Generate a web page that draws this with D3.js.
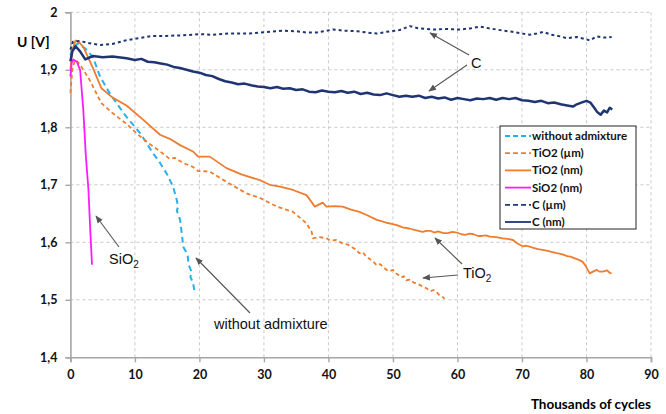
<!DOCTYPE html>
<html>
<head>
<meta charset="utf-8">
<script src="https://cdn.jsdelivr.net/npm/d3@7"></script>
<style>
  body { margin: 0; background: #fff; }
  svg { display: block; }
</style>
</head>
<body>
<svg id="chart" width="666" height="414"></svg>
<script>
// values: [thousands of cycles, U in V]
var withoutAdmixture = [[0,1.925],[0.5,1.940],[1.2,1.946],[2.3,1.937],[3.5,1.922],[4.6,1.888],[6.1,1.859],[7.4,1.838],[8.7,1.818],[10.8,1.790],[12.8,1.755],[13.9,1.738],[15.0,1.718],[15.9,1.697],[16.4,1.678],[16.7,1.662],[16.5,1.655],[17.0,1.639],[17.3,1.612],[17.5,1.592],[17.9,1.584],[18.2,1.575],[18.3,1.562],[18.8,1.548],[18.6,1.540],[19.0,1.530],[19.3,1.511]];
var tio2Micro = [[0,1.860],[0.3,1.900],[0.7,1.917],[1.2,1.913],[2.0,1.900],[3.0,1.882],[4.8,1.842],[6.5,1.825],[8.7,1.806],[10.5,1.787],[12.3,1.771],[13.9,1.758],[15.4,1.745],[16.2,1.747],[16.9,1.742],[17.5,1.738],[19.0,1.731],[19.8,1.724],[21.6,1.723],[24.2,1.705],[27.3,1.685],[29.4,1.677],[32.0,1.662],[34.5,1.653],[36.6,1.633],[37.4,1.618],[37.6,1.607],[38.6,1.609],[39.7,1.607],[40.3,1.603],[41.2,1.604],[42.2,1.598],[43.0,1.596],[43.5,1.592],[44.2,1.588],[44.8,1.581],[45.3,1.583],[45.8,1.576],[46.5,1.570],[47.0,1.566],[47.5,1.560],[48.0,1.562],[48.5,1.557],[49.0,1.552],[49.5,1.550],[50.0,1.552],[50.5,1.546],[51.3,1.539],[51.7,1.541],[52.1,1.534],[52.6,1.535],[53.2,1.530],[53.8,1.528],[54.6,1.523],[55.2,1.520],[55.8,1.515],[56.3,1.517],[56.8,1.513],[57.2,1.508],[57.7,1.505],[58.0,1.502]];
var tio2Nano = [[0,1.900],[0.3,1.935],[0.8,1.951],[1.3,1.948],[2.0,1.940],[3.5,1.903],[4.8,1.868],[6.5,1.852],[8.7,1.838],[11.3,1.813],[13.9,1.787],[15.4,1.780],[17.0,1.769],[19.0,1.758],[19.8,1.749],[21.6,1.749],[24.2,1.729],[26.5,1.718],[29.4,1.708],[30.9,1.700],[32.5,1.697],[34.5,1.691],[36.6,1.682],[37.9,1.662],[39.1,1.669],[39.7,1.662],[41.0,1.663],[42.2,1.662],[43.5,1.657],[44.8,1.653],[46.0,1.647],[47.5,1.639],[48.2,1.637],[49.0,1.634],[49.8,1.632],[50.6,1.630],[51.5,1.626],[52.5,1.624],[53.5,1.621],[54.6,1.618],[55.2,1.620],[55.8,1.620],[56.4,1.617],[57.0,1.619],[57.8,1.616],[58.5,1.616],[59.2,1.618],[59.9,1.617],[60.6,1.614],[61.2,1.613],[61.9,1.615],[62.5,1.614],[63.2,1.611],[63.8,1.611],[64.4,1.612],[65.0,1.610],[66.0,1.609],[67.0,1.607],[67.8,1.606],[68.6,1.604],[69.3,1.598],[70.1,1.593],[70.7,1.594],[71.3,1.592],[71.9,1.590],[72.5,1.588],[73.2,1.587],[74.0,1.585],[74.7,1.583],[75.4,1.581],[76.0,1.580],[76.5,1.578],[77.0,1.576],[77.5,1.575],[78.2,1.572],[78.9,1.569],[79.4,1.566],[79.8,1.560],[80.2,1.552],[80.5,1.546],[81.0,1.549],[81.6,1.552],[82.0,1.549],[82.5,1.549],[83.2,1.551],[83.6,1.547],[83.9,1.546]];
var sio2Nano = [[0,1.888],[0.2,1.912],[0.45,1.918],[1.0,1.914],[1.5,1.900],[2.0,1.830],[2.4,1.749],[2.8,1.691],[3.1,1.616],[3.35,1.561]];
var cMicro = [[0,1.935],[0.4,1.949],[1.5,1.950],[3.0,1.946],[4.6,1.943],[6.5,1.945],[8.5,1.951],[10.5,1.955],[12.8,1.959],[15.0,1.959],[17.5,1.960],[20.0,1.962],[22.0,1.961],[24.5,1.963],[27.8,1.963],[29.5,1.965],[31.0,1.966],[33.0,1.968],[35.0,1.967],[36.5,1.965],[38.2,1.965],[40.7,1.970],[42.5,1.968],[44.5,1.967],[46.5,1.964],[47.5,1.963],[49.0,1.966],[51.0,1.969],[52.6,1.976],[54.0,1.972],[56.5,1.970],[58.0,1.971],[60.3,1.970],[62.0,1.972],[63.5,1.975],[65.0,1.972],[66.6,1.969],[68.5,1.966],[70.0,1.963],[71.2,1.961],[72.3,1.963],[73.3,1.966],[74.5,1.961],[76.0,1.958],[76.9,1.955],[78.5,1.957],[80.0,1.953],[80.5,1.951],[81.6,1.958],[82.8,1.956],[83.9,1.957]];
var cNano = [[0,1.915],[0.3,1.932],[0.8,1.941],[1.5,1.932],[2.3,1.918],[3.5,1.924],[5.0,1.922],[6.5,1.923],[8.7,1.920],[10,1.917],[11,1.919],[12,1.914],[13,1.913],[14,1.911],[15,1.909],[16,1.905],[17,1.903],[18,1.900],[19,1.897],[20,1.895],[21,1.891],[22,1.889],[23,1.884],[24,1.880],[25,1.878],[26,1.875],[27,1.876],[28,1.873],[29,1.871],[30,1.870],[31,1.868],[32,1.870],[33,1.867],[34,1.868],[35,1.865],[36,1.866],[37,1.862],[38,1.861],[39,1.864],[40,1.862],[41,1.861],[42,1.863],[43,1.860],[44,1.862],[45,1.858],[46,1.860],[47,1.857],[48,1.856],[49,1.859],[50,1.856],[51,1.853],[52,1.855],[53,1.853],[54,1.855],[55,1.851],[56,1.853],[57,1.850],[58,1.852],[59,1.848],[60,1.851],[61,1.849],[62,1.847],[63,1.850],[64,1.849],[65,1.851],[66,1.848],[67,1.851],[68,1.849],[69,1.851],[70,1.847],[71,1.846],[72,1.844],[73,1.846],[74,1.842],[75,1.843],[76,1.840],[77,1.838],[77.9,1.836],[78.5,1.840],[79.2,1.843],[80,1.846],[80.6,1.843],[81.2,1.834],[81.7,1.826],[82.2,1.822],[82.7,1.829],[83.2,1.826],[83.6,1.834],[84,1.831]];

var xTicks = [0,10,20,30,40,50,60,70,80,90];
var yTicks = [1.4,1.5,1.6,1.7,1.8,1.9,2.0];

var series = [
  {label: "without admixture", data: withoutAdmixture, color: "#29b0ec", dash: "6,4", w: 2},
  {label: "TiO2 (µm)", data: tio2Micro, color: "#ed7d31", dash: "4,3", w: 1.8},
  {label: "TiO2 (nm)", data: tio2Nano, color: "#ed7d31", dash: null, w: 1.8},
  {label: "SiO2 (nm)", data: sio2Nano, color: "#ff1aff", dash: null, w: 1.8},
  {label: "C (µm)", data: cMicro, color: "#1f3473", dash: "3,3", w: 2},
  {label: "C (nm)", data: cNano, color: "#1f3473", dash: null, w: 2.5}
];

var svg = d3.select("#chart");

var x = d3.scaleLinear().domain([0, 90]).range([70.4, 651]);
var y = d3.scaleLinear().domain([1.4, 2]).range([357.3, 12.3]);

// grid
svg.append("g").selectAll("line")
  .data(xTicks.slice(1))
  .enter().append("line")
    .attr("x1", function(d) { return x(d); })
    .attr("x2", function(d) { return x(d); })
    .attr("y1", y(1.4)).attr("y2", y(2))
    .style("stroke", "#c8c8c8").style("stroke-dasharray", "3,3");
svg.append("g").selectAll("line")
  .data(yTicks.slice(1))
  .enter().append("line")
    .attr("x1", x(0)).attr("x2", x(90))
    .attr("y1", function(d) { return y(d); })
    .attr("y2", function(d) { return y(d); })
    .style("stroke", "#c8c8c8").style("stroke-dasharray", "3,3");

// axes
var xAxis = svg.append("g")
  .attr("transform", "translate(0," + y(1.4) + ")")
  .call(d3.axisBottom(x).tickValues(xTicks).tickSize(5).tickPadding(8).tickFormat(d3.format("d")));
var yAxis = svg.append("g")
  .attr("transform", "translate(" + x(0) + ",0)")
  .call(d3.axisLeft(y).tickValues(yTicks).tickSize(5).tickPadding(8)
    .tickFormat(function(d) { return d === 2 ? "2" : d3.format(".1f")(d).replace(".", ","); }));
[xAxis, yAxis].forEach(function(a) {
  a.select(".domain").style("stroke", "#a6a6a6").style("stroke-width", 1.6);
  a.selectAll(".tick line").style("stroke", "#a6a6a6").style("stroke-width", 1.4);
  a.selectAll(".tick text").style("font-family", "Lato, sans-serif").style("font-weight", "bold")
    .style("font-size", "12.5px").style("fill", "#111");
});

// lines
var line = d3.line()
  .x(function(d) { return x(d[0]); })
  .y(function(d) { return y(d[1]); });

svg.append("g").selectAll("path")
  .data(series)
  .enter().append("path")
    .attr("d", function(d) { return line(d.data); })
    .style("fill", "none")
    .style("stroke", function(d) { return d.color; })
    .style("stroke-width", function(d) { return d.w; })
    .style("stroke-dasharray", function(d) { return d.dash; })
    .style("stroke-linejoin", "round");

// axis titles
svg.append("text").attr("x", 17).attr("y", 47).text("U [V]")
  .style("font-family", "Lato, sans-serif").style("font-weight", "bold").style("font-size", "14px");
svg.append("text").attr("x", 651).attr("y", 409).attr("text-anchor", "end").text("Thousands of cycles")
  .style("font-family", "Lato, sans-serif").style("font-weight", "bold").style("font-size", "13.5px");

// annotations
var defs = svg.append("defs");
defs.append("marker").attr("id", "arr").attr("viewBox", "0 0 10 10")
  .attr("refX", 9).attr("refY", 5).attr("markerWidth", 7).attr("markerHeight", 7)
  .attr("orient", "auto")
  .append("path").attr("d", "M0,1 L10,5 L0,9 Z").style("fill", "#555");

var arrows = [[469,55,430,33],[467,65,429,91],[462,264,435,238],[458,275,423,278],[119,247,96,216],[250,313,196,258]];
svg.append("g").selectAll("line")
  .data(arrows)
  .enter().append("line")
    .attr("x1", function(d) { return d[0]; }).attr("y1", function(d) { return d[1]; })
    .attr("x2", function(d) { return d[2]; }).attr("y2", function(d) { return d[3]; })
    .style("stroke", "#555").style("stroke-width", 1.1)
    .attr("marker-end", "url(#arr)");

function note(tx, ty, main, sub) {
  var t = svg.append("text").attr("x", tx).attr("y", ty)
    .style("font-family", "'Liberation Sans', Arial, sans-serif").style("font-size", "14.5px").style("fill", "#111");
  t.append("tspan").text(main);
  if (sub) t.append("tspan").attr("dy", 4).style("font-size", "10px").text(sub);
}
note(471, 68, "C");
note(463, 278, "TiO", "2");
note(109, 264, "SiO", "2");
note(214, 329, "without admixture");

// legend
var lg = svg.append("g").attr("transform", "translate(500,126)");
lg.append("rect").attr("width", 136).attr("height", 103)
  .style("fill", "#fff").style("stroke", "#222").style("stroke-width", 1);
var item = lg.selectAll(".item").data(series).enter().append("g")
  .attr("transform", function(d, i) { return "translate(0," + (10 + i * 17.2) + ")"; });
item.append("line").attr("x1", 5).attr("x2", 31)
  .style("stroke", function(d) { return d.color; })
  .style("stroke-width", 1.8)
  .style("stroke-dasharray", function(d) { return d.dash ? "5,3" : null; });
item.append("text").attr("x", 32).attr("y", 4).text(function(d) { return d.label; })
  .style("font-family", "Lato, sans-serif").style("font-weight", "bold").style("font-size", "11.5px").style("fill", "#111");
</script>
</body>
</html>
